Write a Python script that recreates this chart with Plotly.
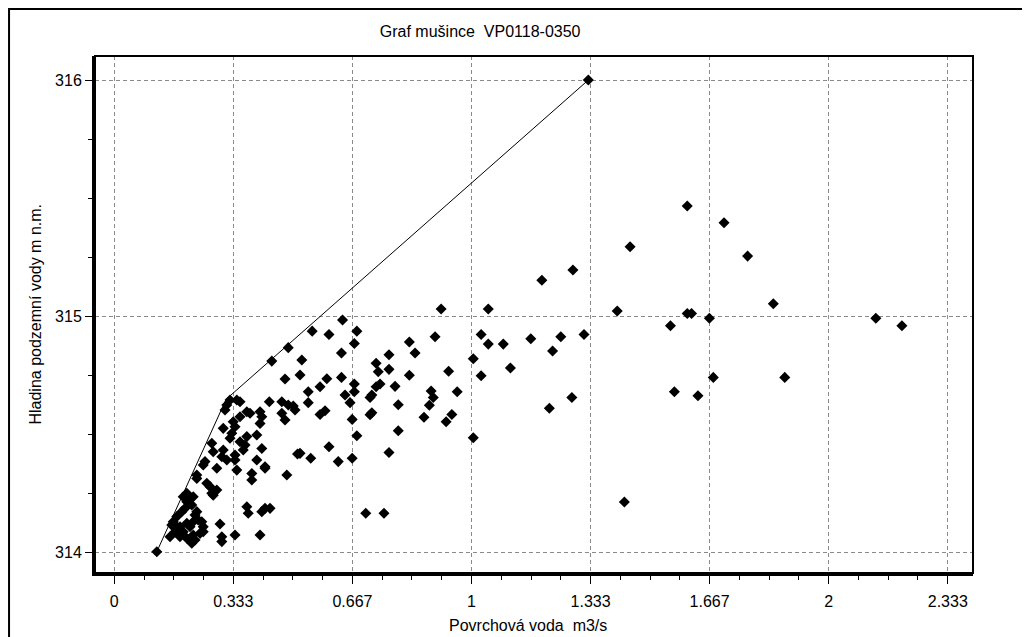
import plotly.graph_objects as go

# Groundwater level vs surface water flow (VP0118-0350)
flow = [
    1.327, 1.604, 1.707, 1.444, 1.773, 1.197, 1.284, 1.845, 1.408, 1.604,
    1.616, 1.666, 1.557, 2.132, 2.205, 1.677, 1.877, 1.568, 1.634, 1.428,
    0.915, 1.047, 0.639, 0.554, 0.601, 0.679, 0.672, 0.826, 0.898, 1.027,
    1.047, 1.089, 1.166, 1.250, 1.315, 1.227, 0.636, 0.842, 0.769, 0.525,
    1.005, 0.733, 0.739, 0.769, 1.109, 0.936, 1.027, 0.826, 0.636, 0.595,
    0.520, 0.576, 0.543, 0.672, 0.672, 0.744, 0.733, 0.721, 0.716, 0.786,
    0.887, 0.893, 0.882, 0.960, 0.646, 0.660, 0.543, 0.795, 0.576, 0.590,
    0.721, 0.716, 0.867, 0.929, 0.945, 1.281, 1.218, 0.666, 0.679, 0.795,
    1.005, 0.601, 0.520, 0.550, 0.627, 0.666, 0.769, 0.704, 0.755, 0.441,
    0.487, 0.478, 0.434, 0.469, 0.469, 0.478, 0.501, 0.513, 0.422, 0.483,
    0.380, 0.408, 0.408, 0.487, 0.506, 0.119, 0.422, 0.436, 0.413, 0.371,
    0.375, 0.408, 0.338, 0.301, 0.301, 0.296, 0.422, 0.385, 0.385, 0.399,
    0.413, 0.399, 0.371, 0.413, 0.371, 0.352, 0.343, 0.324, 0.315, 0.310,
    0.333, 0.338, 0.305, 0.329, 0.324, 0.352, 0.366, 0.361, 0.338, 0.338,
    0.343, 0.305, 0.301, 0.315, 0.287, 0.273, 0.277, 0.254, 0.249, 0.231,
    0.231, 0.259, 0.268, 0.287, 0.273, 0.277, 0.203, 0.193, 0.212, 0.221,
    0.203, 0.217, 0.231, 0.226, 0.198, 0.189, 0.175, 0.165, 0.161, 0.175,
    0.184, 0.170, 0.156, 0.184, 0.193, 0.203, 0.212, 0.221, 0.235, 0.245,
    0.249, 0.249, 0.240, 0.221, 0.226, 0.217, 0.203, 0.352,
]
level = [
    316.003, 315.469, 315.398, 315.297, 315.257, 315.155, 315.198, 315.055, 315.024, 315.014,
    315.014, 314.994, 314.962, 314.994, 314.962, 314.743, 314.743, 314.682, 314.665, 314.215,
    315.033, 315.033, 314.986, 314.939, 314.925, 314.939, 314.887, 314.893, 314.915, 314.925,
    314.884, 314.884, 314.907, 314.915, 314.925, 314.855, 314.846, 314.846, 314.839, 314.817,
    314.822, 314.803, 314.767, 314.777, 314.783, 314.769, 314.750, 314.752, 314.743, 314.737,
    314.753, 314.703, 314.682, 314.715, 314.682, 314.715, 314.703, 314.668, 314.658, 314.705,
    314.685, 314.658, 314.625, 314.682, 314.668, 314.636, 314.636, 314.627, 314.586, 314.602,
    314.593, 314.585, 314.574, 314.555, 314.586, 314.658, 314.612, 314.565, 314.496, 314.517,
    314.487, 314.449, 314.421, 314.400, 314.386, 314.400, 314.425, 314.167, 314.167, 314.812,
    314.869, 314.736, 314.640, 314.640, 314.591, 314.562, 314.622, 314.418, 314.364, 314.329,
    314.591, 314.597, 314.548, 314.626, 314.605, 314.004, 314.188, 314.188, 314.174, 314.195,
    314.167, 314.075, 314.075, 314.068, 314.047, 314.122, 314.358, 314.336, 314.308, 314.393,
    314.442, 314.499, 314.492, 314.576, 314.597, 314.640, 314.647, 314.647, 314.626, 314.605,
    314.555, 314.534, 314.527, 314.506, 314.485, 314.470, 314.456, 314.435, 314.414, 314.393,
    314.350, 314.435, 314.407, 314.393, 314.358, 314.464, 314.428, 314.386, 314.372, 314.329,
    314.315, 314.294, 314.280, 314.266, 314.252, 314.244, 314.252, 314.237, 314.230, 314.237,
    314.216, 314.202, 314.174, 314.160, 314.188, 314.174, 314.153, 314.131, 314.117, 314.110,
    314.110, 314.089, 314.068, 314.068, 314.089, 314.125, 314.110, 314.131, 314.139, 314.131,
    314.110, 314.089, 314.082, 314.075, 314.054, 314.040, 314.061, 314.576,
]

# upper envelope line
env_flow = [0.119, 0.313, 1.327]
env_level = [314.004, 314.650, 316.003]

x_ticks = [0, 1 / 3, 2 / 3, 1, 4 / 3, 5 / 3, 2, 7 / 3]
x_labels = ["0", "0.333", "0.667", "1", "1.333", "1.667", "2", "2.333"]
y_ticks = [314, 315, 316]

fig = go.Figure()
fig.add_trace(go.Scatter(x=env_flow, y=env_level, mode="lines",
                         line=dict(color="black", width=1), hoverinfo="skip"))
fig.add_trace(go.Scatter(x=flow, y=level, mode="markers",
                         marker=dict(symbol="diamond", size=8.5, color="black", line=dict(width=0))))

grid = dict(showgrid=True, gridcolor="#8a8a8a", gridwidth=1, griddash="4px,3px", zeroline=False)

fig.update_xaxes(range=[-0.054, 2.404], tickvals=x_ticks, ticktext=x_labels,
                 ticks="outside", ticklen=8, tickcolor="black", ticklabelstandoff=4,
                 showline=True, linecolor="black", linewidth=3,
                 minor=dict(tickmode="linear", tick0=0, dtick=1 / 12, ticks="outside",
                            ticklen=4, tickcolor="black", showgrid=False),
                 **grid)
fig.update_yaxes(range=[313.914, 316.105], tickvals=y_ticks,
                 ticks="outside", ticklen=7, tickcolor="black",
                 showline=True, linecolor="black", linewidth=3,
                 minor=dict(tickmode="linear", tick0=314, dtick=0.25, ticks="outside",
                            ticklen=4, tickcolor="black", showgrid=False),
                 **grid)

# page body has an 8px margin, so the figure is 8px smaller on each side
fig.update_layout(
    width=1022, height=629,
    margin=dict(l=87, r=57, t=48, b=64),
    paper_bgcolor="white", plot_bgcolor="white",
    showlegend=False,
    font=dict(family="Liberation Sans, Arial, sans-serif", size=16, color="black"),
    title=dict(text="Graf mušince  VP0118-0350", x=0.462, xanchor="center",
               y=1 - 23 / 629, yanchor="middle", yref="container",
               font=dict(size=16, color="black")),
    shapes=[
        dict(type="rect", xref="paper", yref="paper", x0=0, x1=1, y0=0, y1=1,
             line=dict(color="black", width=2), layer="above"),
        dict(type="rect", xref="paper", yref="paper", x0=-0.0979, x1=1.0581, y0=-0.2, y1=1.0909,
             line=dict(color="black", width=2)),
    ],
    annotations=[
        dict(text="Povrchová voda  m3/s", xref="paper", yref="paper", x=0.493, y=-0.1025,
             xanchor="center", yanchor="middle", showarrow=False),
        dict(text="Hladina podzemní vody m n.m.", xref="paper", yref="paper", x=-0.0683, y=0.5,
             xanchor="center", yanchor="middle", textangle=-90, showarrow=False),
    ],
)

fig.write_html("out.html")
